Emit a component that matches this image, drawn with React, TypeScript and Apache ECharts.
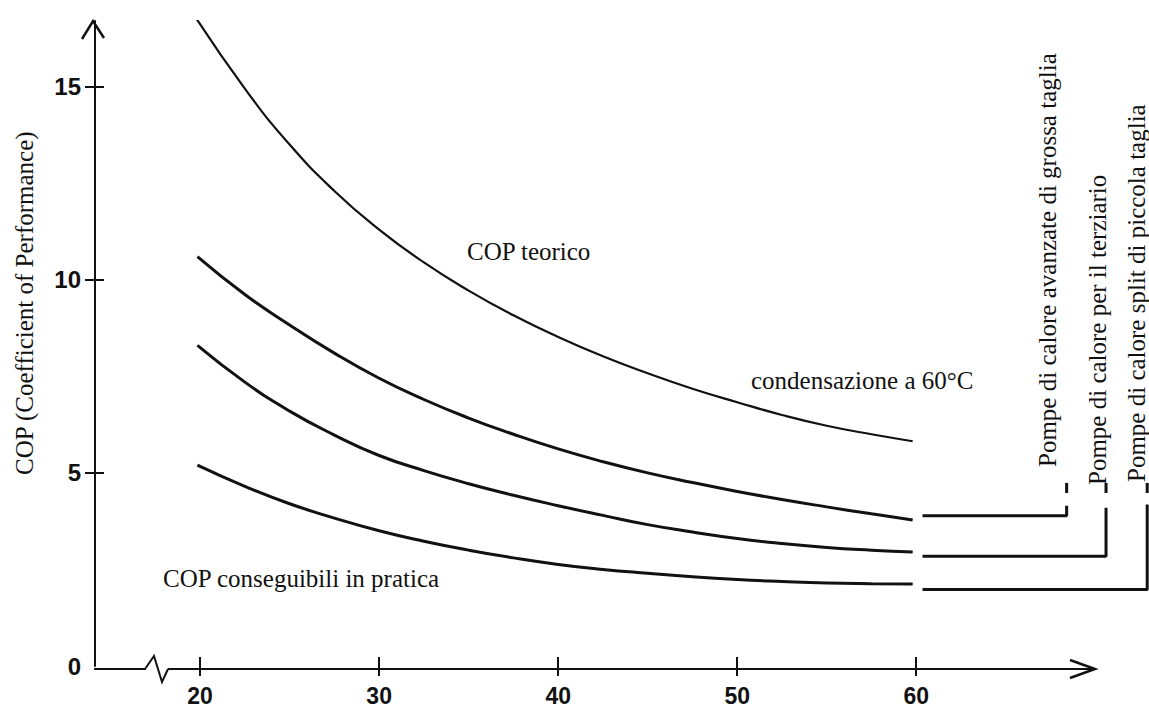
import React, { useEffect, useRef } from "react";
import * as echarts from "echarts";

// ---- data ----
const xTicks = [20, 30, 40, 50, 60];
const yTicks = [5, 10, 15];
const yLabels = [0, 5, 10, 15];

const xTeorico = [19.6, 22.5, 25, 27.5, 30, 32.5, 35, 37.5, 40, 42.5, 45, 47.5, 50, 52.5, 55, 57.5, 59.8];
const copTeorico = [16.9, 14.95, 13.5, 12.3, 11.3, 10.45, 9.72, 9.08, 8.52, 8.02, 7.58, 7.18, 6.83, 6.5, 6.22, 6.0, 5.82];

const xPratica = [19.85, 22.5, 25, 27.5, 30, 32.5, 35, 37.5, 40, 42.5, 45, 47.5, 50, 52.5, 55, 57.5, 59.8];
const copGrossa = [10.6, 9.62, 8.83, 8.1, 7.45, 6.9, 6.42, 6.0, 5.62, 5.29, 5.0, 4.75, 4.52, 4.31, 4.12, 3.94, 3.78];
const copTerziario = [8.3, 7.35, 6.6, 5.98, 5.45, 5.06, 4.72, 4.42, 4.15, 3.9, 3.66, 3.47, 3.3, 3.17, 3.07, 3.0, 2.95];
const copSplit = [5.2, 4.65, 4.2, 3.83, 3.5, 3.23, 3.0, 2.8, 2.63, 2.5, 2.4, 2.31, 2.24, 2.19, 2.15, 2.13, 2.12];

// bracket lines on the right (x, y pairs)
const bracketGrossaX = [60.35, 68.4, 68.4];
const bracketGrossaY = [3.89, 3.89, 4.15];
const bracketTerziarioX = [60.35, 70.6, 70.6];
const bracketTerziarioY = [2.84, 2.84, 4.1];
const bracketSplitX = [60.35, 72.9, 72.9];
const bracketSplitY = [1.98, 1.98, 4.18];
const dashY = [4.48, 4.74];

const X_MIN = 14.13;
const X_MAX = 73.0;
const Y_MIN = 0;
const Y_MAX = 16.7;

const pairs = (xs: number[], ys: number[]) => xs.map((x, i) => [x, ys[i]]);

const INK = "#111";
const SANS = "Liberation Sans, Arial, sans-serif";
const SERIF = "Liberation Serif, Times New Roman, serif";

export default function App() {
  const ref = useRef<HTMLDivElement>(null);

  useEffect(() => {
    if (!ref.current) return;
    const chart = echarts.init(ref.current, undefined, { renderer: "svg" });

    const curve = (name: string, xs: number[], ys: number[], width: number) => ({
      name,
      type: "line",
      data: pairs(xs, ys),
      smooth: 0.5,
      showSymbol: false,
      symbol: "none",
      lineStyle: { color: INK, width },
      silent: true,
    });
    const bracket = (name: string, xs: number[], ys: number[]) => ({
      name,
      type: "line",
      data: pairs(xs, ys),
      showSymbol: false,
      symbol: "none",
      clip: false,
      lineStyle: { color: INK, width: 3 },
      silent: true,
    });

    const textEl = (
      text: string,
      x: number,
      y: number,
      size: number,
      rotation = 0
    ) => ({
      type: "text",
      x,
      y,
      rotation,
      z: 100,
      style: {
        text,
        fill: INK,
        fontSize: size,
        fontFamily: SERIF,
        align: "left",
        verticalAlign: "middle",
      },
    });

    chart.setOption({
      animation: false,
      backgroundColor: "#fff",
      grid: { left: 95, right: 0, top: 21, bottom: 38, containLabel: false },
      xAxis: [
        {
          type: "value",
          min: X_MIN,
          max: X_MAX,
          position: "bottom",
          axisLine: { show: false },
          axisTick: { show: true, length: 10, customValues: xTicks, lineStyle: { color: INK, width: 2 } },
          axisLabel: {
            show: true,
            customValues: xTicks,
            color: INK,
            fontSize: 23,
            fontWeight: "bold",
            fontFamily: SANS,
            margin: 18,
          },
          splitLine: { show: false },
        },
        {
          type: "value",
          min: X_MIN,
          max: X_MAX,
          position: "bottom",
          axisLine: { show: false },
          axisTick: { show: true, inside: true, length: 9, customValues: xTicks, lineStyle: { color: INK, width: 2 } },
          axisLabel: { show: false },
          splitLine: { show: false },
        },
      ],
      yAxis: [
        {
          type: "value",
          min: Y_MIN,
          max: Y_MAX,
          position: "left",
          axisLine: { show: true, onZero: false, lineStyle: { color: INK, width: 2 } },
          axisTick: { show: true, length: 10, customValues: yTicks, lineStyle: { color: INK, width: 2 } },
          axisLabel: {
            show: true,
            customValues: yLabels,
            color: INK,
            fontSize: 24,
            fontWeight: "bold",
            fontFamily: SANS,
            margin: 14,
          },
          splitLine: { show: false },
        },
        {
          type: "value",
          min: Y_MIN,
          max: Y_MAX,
          position: "left",
          axisLine: { show: false },
          axisTick: { show: true, inside: true, length: 9, customValues: yTicks, lineStyle: { color: INK, width: 2 } },
          axisLabel: { show: false },
          splitLine: { show: false },
        },
      ],
      series: [
        curve("COP teorico", xTeorico, copTeorico, 2.2),
        curve("grossa taglia", xPratica, copGrossa, 3),
        curve("terziario", xPratica, copTerziario, 3),
        curve("piccola taglia", xPratica, copSplit, 3),
        bracket("b1", bracketGrossaX, bracketGrossaY),
        bracket("b2", bracketTerziarioX, bracketTerziarioY),
        bracket("b3", bracketSplitX, bracketSplitY),
        bracket("d1", [bracketGrossaX[2], bracketGrossaX[2]], dashY),
        bracket("d2", [bracketTerziarioX[2], bracketTerziarioX[2]], dashY),
        bracket("d3", [bracketSplitX[2], bracketSplitX[2]], dashY),
      ],
      graphic: [
        // x axis line with break and arrow heads
        { type: "line", z: 100, shape: { x1: 94, y1: 669, x2: 1094, y2: 669 }, style: { stroke: INK, lineWidth: 2 } },
        { type: "polyline", z: 100, shape: { points: [[82, 39], [93, 21], [104, 38]] }, style: { stroke: INK, lineWidth: 2.5, fill: "none" } },
        { type: "polyline", z: 100, shape: { points: [[1070, 660], [1095, 669], [1070, 678]] }, style: { stroke: INK, lineWidth: 2.5, fill: "none" } },
        { type: "rect", z: 101, shape: { x: 146, y: 665, width: 22, height: 8 }, style: { fill: "#fff" } },
        { type: "polyline", z: 102, shape: { points: [[145, 669], [154, 656], [162, 682], [168, 669]] }, style: { stroke: INK, lineWidth: 2, fill: "none" } },
        // annotations
        textEl("COP teorico", 467, 251, 25),
        textEl("condensazione a 60°C", 751, 380, 25),
        textEl("COP conseguibili in pratica", 163, 578, 25),
        textEl("COP (Coefficient of Performance)", 24, 475, 25, Math.PI / 2),
        textEl("Pompe di calore avanzate di grossa taglia", 1047, 467, 25, Math.PI / 2),
        textEl("Pompe di calore per il terziario", 1097, 485, 25, Math.PI / 2),
        textEl("Pompe di calore split di piccola taglia", 1136, 482, 25, Math.PI / 2),
      ],
    });

    return () => chart.dispose();
  }, []);

  return (
    <div
      ref={ref}
      style={{ position: "absolute", left: 0, top: 0, width: 1149, height: 707, background: "#fff" }}
    />
  );
}
